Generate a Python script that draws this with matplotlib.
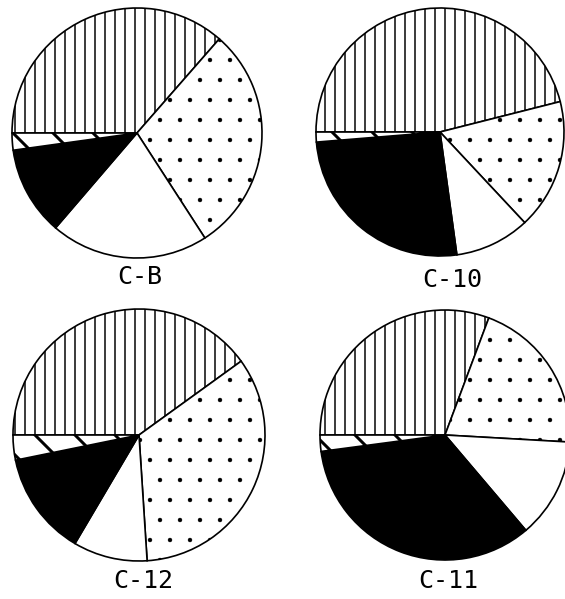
import numpy as np
import matplotlib
matplotlib.use("Agg")
import matplotlib.pyplot as plt

# slice shares (percent), clockwise from 9 o'clock:
# vertical hatch, dotted, white, black, diagonal hatch
labels = ["C-B", "C-10", "C-12", "C-11"]
cb_vals = [36.4, 29.4, 20.4, 11.5, 2.2]
c10_vals = [46.1, 17.0, 9.8, 25.9, 1.3]
c12_vals = [40.0, 33.9, 9.5, 13.3, 3.2]
c11_vals = [30.7, 20.2, 12.9, 34.1, 2.1]

hatches = ["||", ".", "", "", "\\"]
hatch_lw = [0.9, 0.2, 1.0, 1.0, 1.8]
fills = ["white", "white", "white", "black", "white"]

W, H, DPI = 565, 599, 120
plt.rcParams["hatch.linewidth"] = 1.0

fig = plt.figure(figsize=(W / DPI, H / DPI), dpi=DPI)
ax = fig.add_axes([0, 0, 1, 1])

# pie centres/radii and label spots, in pixels from top-left
pies = [
    (cb_vals, (137, 133), 125, (140, 277)),
    (c10_vals, (440, 132), 124, (452, 280)),
    (c12_vals, (139, 435), 126, (143, 581)),
    (c11_vals, (445, 435), 125, (448, 581)),
]

for (vals, (cx, cy), r, (lx, ly)), name in zip(pies, labels):
    wedges, _ = ax.pie(vals, colors=fills, startangle=180, counterclock=False,
                       center=(cx, H - cy), radius=r, frame=True,
                       wedgeprops=dict(edgecolor="black", linewidth=1.0))
    for w, h, lw in zip(wedges, hatches, hatch_lw):
        w.set_hatch(h)
        if hasattr(w, "set_hatch_linewidth"):
            w.set_hatch_linewidth(lw)
    ax.text(lx, H - ly, name, ha="center", va="center", fontsize=15,
            family="DejaVu Sans Mono")

ax.set_xlim(0, W)
ax.set_ylim(0, H)
ax.set_aspect("equal")
ax.axis("off")

fig.savefig("out.png", dpi=DPI, facecolor="white")
